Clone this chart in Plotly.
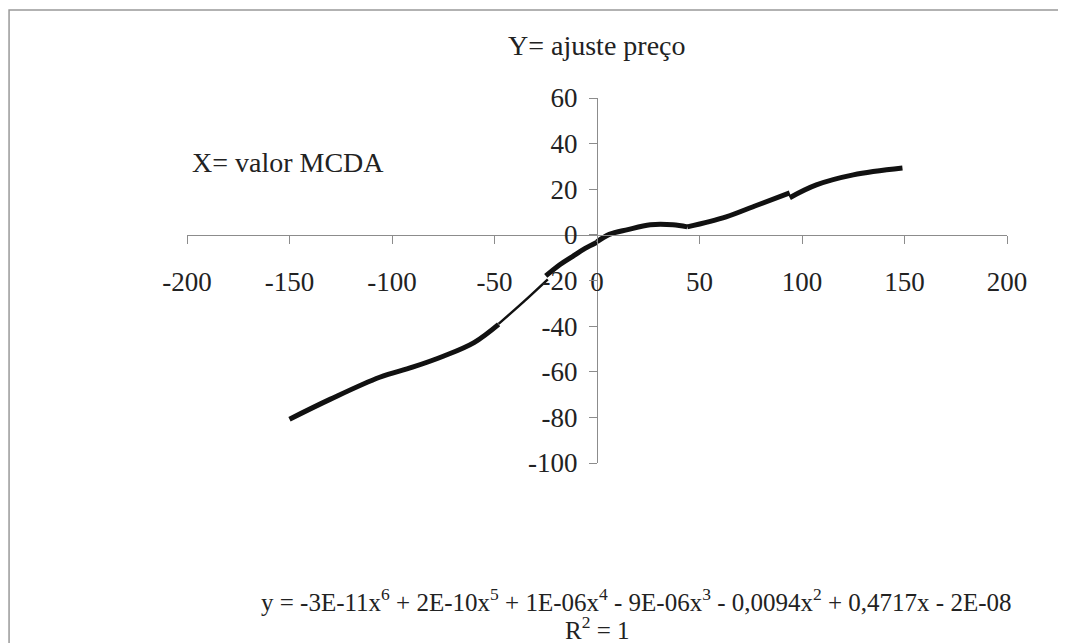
import plotly.graph_objects as go

# Curve segments (X = valor MCDA, Y = ajuste preço)
seg_a_x = [-150, -130, -106, -90, -75, -60, -48]
seg_a_y = [-80.8, -72, -62.4, -58, -53.2, -47.2, -39.2]
seg_b_x = [-48, -36, -24]
seg_b_y = [-39, -29.5, -19.5]
seg_c_x = [-25, -18, -12, -6, 0]
seg_c_y = [-18, -13, -9.5, -6, -3.2]
seg_d_x = [0, 6, 15, 26, 37, 44]
seg_d_y = [-3, 0.2, 2.3, 4.4, 4.4, 3.5]
seg_e_x = [44, 63, 78, 94]
seg_e_y = [3.5, 7.9, 13, 18.4]
seg_f_x = [94, 107, 125, 149]
seg_f_y = [16.3, 21.9, 26.3, 29.3]

x_ticks = [-200, -150, -100, -50, 0, 50, 100, 150, 200]
x_tick_text = ["-200", "-150", "-100", "-50", "0", "50", "100", "150", "200"]
y_ticks = [-100, -80, -60, -40, -20, 0, 20, 40, 60]
y_tick_text = ["-100", "-80", "-60", "-40", "-20", "0", "20", "40", "60"]

title_text = "Y= ajuste preço"
xlabel_text = "X= valor MCDA"
equation_text = ("y = -3E-11x<sup>6</sup> + 2E-10x<sup>5</sup> + 1E-06x<sup>4</sup> - 9E-06x<sup>3</sup>"
                 " - 0,0094x<sup>2</sup> + 0,4717x - 2E-08")
r2_text = "R<sup>2</sup> = 1"

FONT = "Liberation Serif"
TXT = "#222222"
AX = "#8c8c8c"

fig = go.Figure()
segments = [
    (seg_a_x, seg_a_y, 5),
    (seg_b_x, seg_b_y, 2.5),
    (seg_c_x, seg_c_y, 5),
    (seg_d_x, seg_d_y, 5),
    (seg_e_x, seg_e_y, 5),
    (seg_f_x, seg_f_y, 5),
]
for sx, sy, w in segments:
    fig.add_trace(go.Scatter(x=sx, y=sy, mode="lines",
                             line=dict(color="#111111", width=w, shape="spline"),
                             showlegend=False, hoverinfo="skip"))

fig.update_layout(
    width=1058, height=635,
    margin=dict(l=179, r=59, t=90, b=180),
    paper_bgcolor="white", plot_bgcolor="white",
    font=dict(family=FONT, color=TXT, size=27),
    showlegend=False,
    xaxis=dict(range=[-200, 200], tickvals=x_ticks, ticktext=x_tick_text,
               ticks="outside", ticklen=8,
               tickcolor=AX, showline=True, linecolor=AX, linewidth=1,
               showgrid=False, zeroline=False, anchor="free", position=0.625,
               tickfont=dict(family=FONT, size=27, color=TXT),
               ticklabelstandoff=15, domain=[0, 1]),
    yaxis=dict(range=[-100, 60], tickvals=y_ticks, ticktext=y_tick_text,
               ticks="outside", ticklen=8,
               tickcolor=AX, showline=True, linecolor=AX, linewidth=1,
               showgrid=False, zeroline=False, anchor="free", position=0.5,
               tickfont=dict(family=FONT, size=27, color=TXT),
               ticklabelstandoff=6, domain=[0, 1]),
)

fig.add_shape(type="rect", xref="paper", yref="paper",
              x0=-0.217, x1=1.0695, y0=-0.6, y1=1.241,
              line=dict(color="#999999", width=1.5), fillcolor="rgba(0,0,0,0)",
              layer="below")

fig.add_annotation(text=title_text, xref="paper", yref="paper", x=0.5, y=1.145,
                   showarrow=False, font=dict(family=FONT, size=28, color=TXT),
                   xanchor="center", yanchor="middle")
fig.add_annotation(text=xlabel_text, xref="paper", yref="paper", x=0.004, y=0.822,
                   showarrow=False, font=dict(family=FONT, size=28, color=TXT),
                   xanchor="left", yanchor="middle")
fig.add_annotation(text=equation_text, xref="paper", yref="paper", x=0.548, y=-0.376,
                   showarrow=False, font=dict(family=FONT, size=25, color=TXT),
                   xanchor="center", yanchor="middle")
fig.add_annotation(text=r2_text, xref="paper", yref="paper", x=0.5, y=-0.452,
                   showarrow=False, font=dict(family=FONT, size=25, color=TXT),
                   xanchor="center", yanchor="middle")

fig.write_html("out.html")
